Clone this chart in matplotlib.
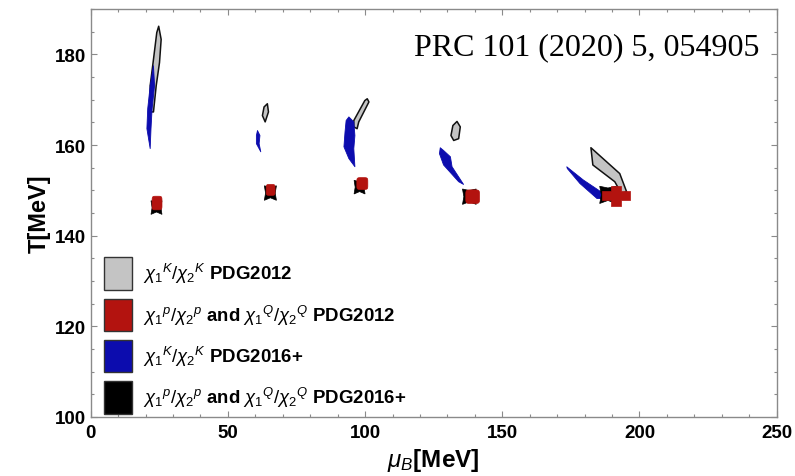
import matplotlib
matplotlib.use('Agg')
import matplotlib.pyplot as plt
import numpy as np
from matplotlib.patches import Polygon, Patch
from matplotlib.ticker import MultipleLocator

# ---------------- data (mu_B [MeV], T [MeV]) ----------------
# gray: chi1^K/chi2^K PDG2012 contours
gray_1 = [(24.8, 186.2), (25.7, 183.3), (25.1, 178.2), (23.9, 173.1), (22.9, 167.3),
          (21.7, 167.3), (21.7, 173.1), (22.9, 178.9), (24.1, 184.8)]
gray_2 = [(64.4, 169.1), (64.8, 167.3), (63.6, 165.1), (62.6, 166.5), (63.2, 168.4)]
gray_3 = [(100.8, 170.2), (101.4, 169.5), (97.7, 165.1), (97.1, 163.6), (95.9, 164.0),
          (95.9, 165.4), (99.9, 169.8)]
gray_4 = [(133.5, 165.2), (134.7, 164.0), (134.1, 161.4), (132.3, 161.0), (131.3, 162.1),
          (132.0, 164.3)]
gray_5 = [(182.3, 159.4), (192.8, 153.7), (195.3, 149.7), (193.4, 149.3), (191.0, 151.9),
          (183.0, 155.6)]

# blue: chi1^K/chi2^K PDG2016+ contours
blue_1 = [(22.9, 177.5), (23.3, 173.1), (22.4, 168.0), (22.0, 163.6), (21.7, 159.2),
          (20.5, 163.6), (20.8, 168.0), (21.7, 173.1)]
blue_2 = [(60.8, 163.2), (61.7, 162.1), (61.4, 160.3), (62.0, 158.5), (60.4, 160.3),
          (60.4, 162.1)]
blue_3 = [(94.1, 166.2), (95.9, 165.1), (96.3, 162.1), (95.9, 159.2), (96.3, 155.2),
          (94.1, 157.0), (92.3, 159.6), (92.7, 162.9), (93.1, 165.4)]
blue_4 = [(127.4, 159.4), (128.6, 158.8), (131.1, 157.4), (131.7, 155.2), (135.9, 151.3),
          (134.1, 151.9), (128.6, 155.6), (127.1, 158.1)]
blue_5 = [(173.5, 155.2), (179.5, 152.3), (186.9, 149.3), (187.5, 148.2), (184.5, 148.2),
          (178.3, 151.5), (173.7, 154.8)]

# red: chi1^p/chi2^p and chi1^Q/chi2^Q PDG2012 (centre, half widths)
red_x = [24.2, 65.6, 99.0, 139.2, 191.5]
red_T = [147.2, 150.1, 151.5, 148.6, 148.8]
red_dx = [1.8, 1.6, 2.0, 2.5, 5.0]
red_dT = [1.5, 1.2, 1.3, 1.5, 2.2]

# black: chi1^p/chi2^p and chi1^Q/chi2^Q PDG2016+ (centre, half widths)
black_x = [24.0, 65.5, 98.0, 138.0, 188.5]
black_T = [146.2, 149.4, 150.7, 148.6, 149.0]
black_dx = [2.0, 2.2, 2.0, 2.5, 3.0]
black_dT = [1.5, 1.6, 1.5, 1.7, 1.9]

legend_labels = [r'$\chi_1{}^K/\chi_2{}^K$ PDG2012',
                 r'$\chi_1{}^p/\chi_2{}^p$ and $\chi_1{}^Q/\chi_2{}^Q$ PDG2012',
                 r'$\chi_1{}^K/\chi_2{}^K$ PDG2016+',
                 r'$\chi_1{}^p/\chi_2{}^p$ and $\chi_1{}^Q/\chi_2{}^Q$ PDG2016+']

# ---------------- style ----------------
GRAY = '#c4c4c4'
RED = '#b3130f'
BLUE = '#0c0cae'
BLACK = '#000000'
FRAME = '#8a8a8a'

plt.rcParams['font.family'] = ['Liberation Sans', 'DejaVu Sans']
plt.rcParams['mathtext.fontset'] = 'custom'
plt.rcParams['mathtext.it'] = 'Liberation Sans:italic'
plt.rcParams['mathtext.rm'] = 'Liberation Sans'
plt.rcParams['mathtext.bf'] = 'Liberation Sans:bold'

fig = plt.figure(figsize=(7.95, 4.77), dpi=100)
ax = fig.add_axes([0.114, 0.1237, 0.863, 0.8553])

for poly in [gray_1, gray_2, gray_3, gray_4, gray_5]:
    ax.add_patch(Polygon(poly, closed=True, facecolor=GRAY, edgecolor='#111111',
                         linewidth=1.1, joinstyle='round', zorder=2))
for poly in [blue_1, blue_2, blue_3, blue_4, blue_5]:
    ax.add_patch(Polygon(poly, closed=True, facecolor=BLUE, edgecolor=BLUE,
                         linewidth=0.6, joinstyle='round', zorder=3))

# black: square with pinched sides
bshape = np.array([(-1, -1), (0, -0.65), (1, -1), (0.8, 0), (1, 1), (0, 0.8), (-1, 1), (-0.8, 0)])
for cx, cy, dx, dy in zip(black_x, black_T, black_dx, black_dT):
    ax.add_patch(Polygon(np.column_stack([cx + dx * bshape[:, 0], cy + dy * bshape[:, 1]]),
                         closed=True, facecolor=BLACK, edgecolor=BLACK, linewidth=0.5, zorder=4))

# red: rounded squares, last one a cross
t = np.linspace(0, 2 * np.pi, 60)
c, s = np.cos(t), np.sin(t)
for i, (cx, cy, dx, dy) in enumerate(zip(red_x, red_T, red_dx, red_dT)):
    if i < 4:
        xs = cx + dx * np.sign(c) * np.abs(c) ** 0.35
        ys = cy + dy * np.sign(s) * np.abs(s) ** 0.35
        verts = np.column_stack([xs, ys])
    else:
        tx, ty = 0.36 * dx, 0.45 * dy
        verts = np.array([(cx - dx, cy - ty), (cx - tx, cy - ty), (cx - tx, cy - dy),
                          (cx + tx, cy - dy), (cx + tx, cy - ty), (cx + dx, cy - ty),
                          (cx + dx, cy + ty), (cx + tx, cy + ty), (cx + tx, cy + dy),
                          (cx - tx, cy + dy), (cx - tx, cy + ty), (cx - dx, cy + ty)])
    ax.add_patch(Polygon(verts, closed=True, facecolor=RED, edgecolor=RED,
                         linewidth=0.5, joinstyle='round', zorder=5))

ax.set_xlim(0, 250)
ax.set_ylim(100, 190)
ax.xaxis.set_major_locator(MultipleLocator(50))
ax.xaxis.set_minor_locator(MultipleLocator(10))
ax.yaxis.set_major_locator(MultipleLocator(20))
ax.yaxis.set_minor_locator(MultipleLocator(5))
ax.tick_params(which='both', direction='in', top=True, right=True, color=FRAME, width=0.8)
ax.tick_params(which='major', length=4)
ax.tick_params(which='minor', length=2.5)
ax.tick_params(axis='y', which='major', pad=3)
ax.tick_params(axis='x', which='major', pad=5)
for lab in ax.get_xticklabels() + ax.get_yticklabels():
    lab.set_fontsize(13.5)
    lab.set_fontweight('bold')
for sp in ax.spines.values():
    sp.set_color(FRAME)
    sp.set_linewidth(1.0)

ax.set_xlabel(r'$\mu_B$[MeV]', fontsize=17.5, fontweight='bold')
ax.set_ylabel('T[MeV]', fontsize=17, fontweight='bold')
ax.xaxis.set_label_coords(0.5, -0.072)
ax.yaxis.set_label_coords(-0.058, 0.5)

ax.text(0.975, 0.89, 'PRC 101 (2020) 5, 054905', transform=ax.transAxes,
        ha='right', va='baseline', fontsize=23, family=['Liberation Serif', 'DejaVu Serif'])

handles = [Patch(facecolor=GRAY, edgecolor='#333333', linewidth=1.0),
           Patch(facecolor=RED, edgecolor='#333333', linewidth=1.0),
           Patch(facecolor=BLUE, edgecolor='#333333', linewidth=1.0),
           Patch(facecolor=BLACK, edgecolor='#333333', linewidth=1.0)]
leg = ax.legend(handles, legend_labels, loc='lower left', bbox_to_anchor=(0.019, 0.008),
                frameon=False, borderpad=0, borderaxespad=0,
                prop={'size': 13.4, 'weight': 'bold'},
                handlelength=1.5, handleheight=2.3, handletextpad=0.62, labelspacing=0.48)

fig.savefig('out.png', dpi=100)
